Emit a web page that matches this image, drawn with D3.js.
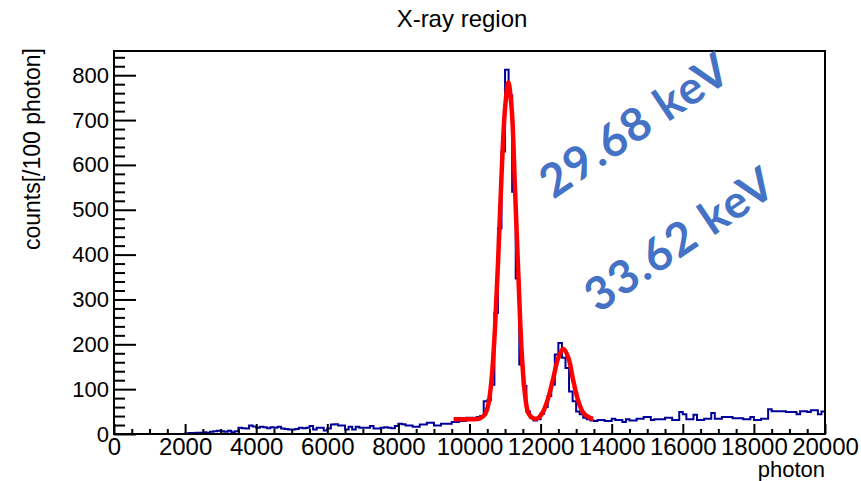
<!DOCTYPE html>
<html>
<head>
<meta charset="utf-8">
<script src="https://cdn.jsdelivr.net/npm/d3@7"></script>
<style>
  html, body { margin: 0; padding: 0; background: #fff; }
  svg { display: block; }
  text { font-family: "Liberation Sans", Arial, Helvetica, sans-serif; }
</style>
</head>
<body>
<svg id="chart" width="861" height="481"></svg>
<script>
// Histogram: counts per 100-photon bin, bins from 0 to 20000
const binWidth = 100;
const counts = [
  0, 0, 0, 0, 0, 0, 0, 0, 0, 0,
  0, 0, 0, 0, 0, 0, 0, 0, 0, 0,
  1, 2, 2, 3, 3, 4, 3, 5, 6, 7,
  6, 5, 7, 4, 6, 14, 13, 12, 19, 17,
  14, 16, 15, 13, 15, 14, 16, 12, 11, 10,
  10, 11, 14, 13, 14, 18, 10, 14, 14, 8,
  12, 21, 22, 19, 19, 10, 16, 10, 16, 14,
  14, 14, 18, 12, 12, 14, 15, 14, 13, 18,
  23, 22, 19, 19, 16, 16, 21, 21, 25, 25,
  19, 19, 23, 23, 23, 27, 27, 29, 29, 36,
  36, 34, 38, 40, 73, 75, 110, 270, 458, 630,
  812, 755, 540, 347, 155, 107, 50, 36, 30, 33,
  45, 60, 85, 110, 177, 203, 170, 147, 95, 73,
  50, 44, 36, 33, 30, 29, 31, 31, 29, 29,
  34, 31, 31, 27, 33, 30, 30, 34, 34, 38,
  38, 31, 33, 33, 33, 36, 36, 31, 31, 49,
  44, 33, 33, 43, 31, 31, 34, 34, 47, 34,
  34, 38, 38, 38, 35, 35, 35, 33, 33, 38,
  31, 31, 34, 34, 55, 51, 51, 51, 51, 49,
  49, 49, 44, 51, 51, 49, 53, 53, 44, 50
];

// Fitted double-peak curve, sampled along the fit range
const fitX = [9550, 10014, 10295, 10436, 10530, 10624, 10717, 10811, 10905, 10999,
              11092, 11186, 11280, 11374, 11467, 11561, 11655, 11796, 11936, 12077,
              12218, 12358, 12499, 12640, 12780, 12921, 13062, 13202, 13390, 13480];
const fitY = [33, 33, 35, 44, 66, 125, 236, 399, 584, 725,
              784, 725, 547, 355, 184, 88, 47, 35, 36, 51,
              81, 125, 170, 190, 170, 118, 73, 47, 36, 34];

// Axis ticks
const xTicks = [0, 2000, 4000, 6000, 8000, 10000, 12000, 14000, 16000, 18000, 20000];
const yTicks = [0, 100, 200, 300, 400, 500, 600, 700, 800];

// Peak annotations
const peakLabels = ["29.68 keV", "33.62 keV"];

const title = "X-ray region";
const xTitle = "photon";
const yTitle = "counts[/100 photon]";

const frame = { left: 114, right: 825, top: 51, bottom: 434 };
const svg = d3.select("#chart");

const x = d3.scaleLinear().domain([0, 20000]).range([frame.left, frame.right]);
const y = d3.scaleLinear().domain([0, 854]).range([frame.bottom, frame.top]);

// Title
svg.append("text")
  .attr("x", 462).attr("y", 27)
  .attr("text-anchor", "middle")
  .attr("font-size", 24)
  .text(title);

// Histogram as a step line
const edges = counts.map((c, i) => [i * binWidth, c]);
edges.push([counts.length * binWidth, counts[counts.length - 1]]);
svg.append("path")
  .datum(edges)
  .attr("fill", "none")
  .attr("stroke", "#000099")
  .attr("stroke-width", 2)
  .attr("d", d3.line().x(d => x(d[0])).y(d => y(d[1])).curve(d3.curveStepAfter));

// Fit curve
svg.append("path")
  .datum(fitX.map((v, i) => [v, fitY[i]]))
  .attr("fill", "none")
  .attr("stroke", "#ff0000")
  .attr("stroke-width", 4.5)
  .attr("stroke-linejoin", "round")
  .attr("d", d3.line().x(d => x(d[0])).y(d => y(d[1])).curve(d3.curveCatmullRom.alpha(0.5)));

// Minor ticks
const xMinor = d3.range(0, 20001, 500).filter(v => v % 2000 !== 0);
const yMinor = d3.range(0, 841, 20).filter(v => v % 100 !== 0);

svg.append("g")
  .attr("transform", `translate(0,${frame.bottom})`)
  .call(d3.axisBottom(x).tickValues(xMinor).tickSize(-5).tickFormat(""))
  .call(g => g.select(".domain").remove())
  .selectAll("line").attr("stroke", "#000").attr("stroke-width", 2);

svg.append("g")
  .attr("transform", `translate(${frame.left},0)`)
  .call(d3.axisLeft(y).tickValues(yMinor).tickSize(-11).tickFormat(""))
  .call(g => g.select(".domain").remove())
  .selectAll("line").attr("stroke", "#000").attr("stroke-width", 2);

// Major ticks and labels
const xAxis = svg.append("g")
  .attr("transform", `translate(0,${frame.bottom})`)
  .call(d3.axisBottom(x).tickValues(xTicks).tickSizeInner(-10).tickSizeOuter(0).tickPadding(4).tickFormat(d3.format("d")));
xAxis.select(".domain").remove();
xAxis.selectAll("line").attr("stroke", "#000").attr("stroke-width", 2);
xAxis.selectAll("text")
  .attr("font-size", 24)
  .attr("fill", "#000")
  .style("font-family", "'Liberation Sans', Arial, sans-serif");

const yAxis = svg.append("g")
  .attr("transform", `translate(${frame.left},0)`)
  .call(d3.axisLeft(y).tickValues(yTicks).tickSizeInner(-22).tickSizeOuter(0).tickPadding(5).tickFormat(d3.format("d")));
yAxis.select(".domain").remove();
yAxis.selectAll("line").attr("stroke", "#000").attr("stroke-width", 2);
yAxis.selectAll("text")
  .attr("font-size", 22)
  .attr("fill", "#000")
  .style("font-family", "'Liberation Sans', Arial, sans-serif");

// Frame
svg.append("rect")
  .attr("x", frame.left).attr("y", frame.top)
  .attr("width", frame.right - frame.left)
  .attr("height", frame.bottom - frame.top)
  .attr("fill", "none")
  .attr("stroke", "#000")
  .attr("stroke-width", 2);

// Axis titles
svg.append("text")
  .attr("x", frame.right).attr("y", 477)
  .attr("text-anchor", "end")
  .attr("font-size", 22)
  .text(xTitle);

svg.append("text")
  .attr("transform", `translate(40,${frame.top - 3}) rotate(-90)`)
  .attr("text-anchor", "end")
  .attr("font-size", 23)
  .text(yTitle);

// Peak energy annotations
const labelPos = [[634, 124], [679, 238]];
peakLabels.forEach((t, i) => {
  svg.append("text")
    .attr("transform", `translate(${labelPos[i][0]},${labelPos[i][1]}) rotate(-34)`)
    .attr("text-anchor", "middle")
    .attr("dominant-baseline", "central")
    .attr("font-size", 46)
    .attr("font-weight", "bold")
    .attr("letter-spacing", 1.5)
    .attr("fill", "#4472C4")
    .style("font-family", "Lato, 'Noto Sans', sans-serif")
    .text(t);
});
</script>
</body>
</html>
